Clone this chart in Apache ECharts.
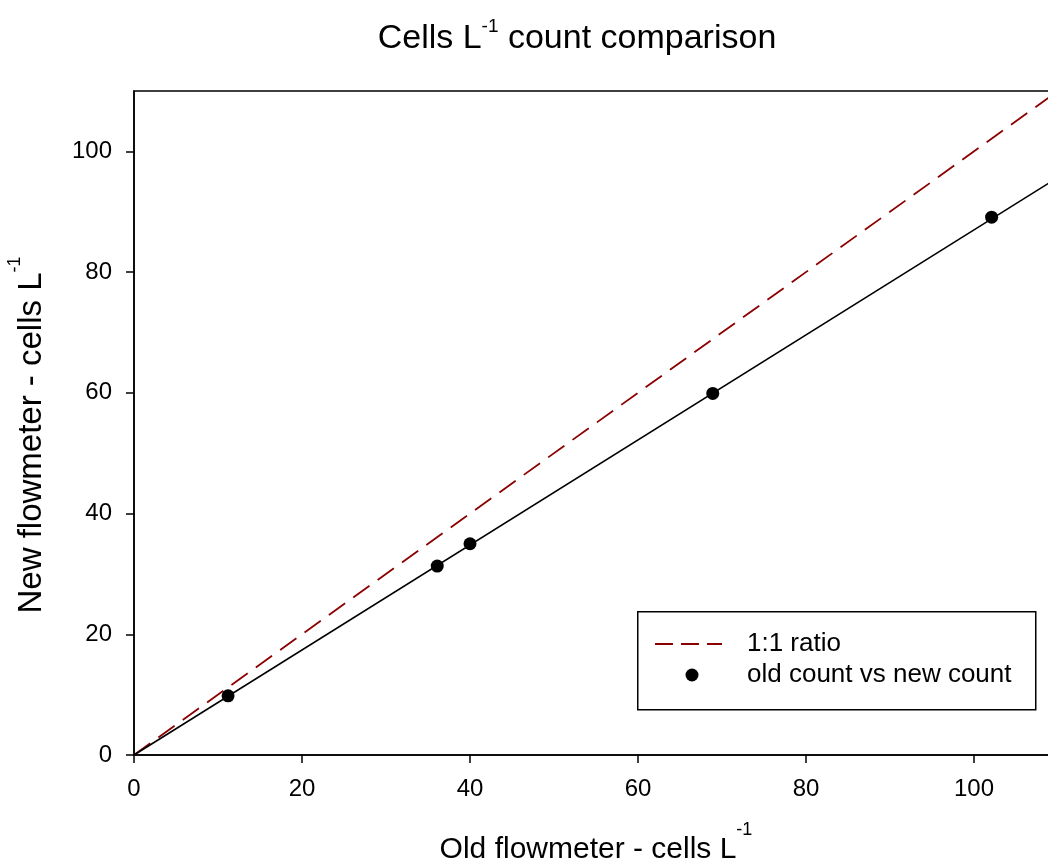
<!DOCTYPE html>
<html>
<head>
<meta charset="utf-8">
<script src="https://cdn.jsdelivr.net/npm/echarts@6/dist/echarts.min.js"></script>
<style>
html,body{margin:0;padding:0;background:#fff;}
#c{width:1048px;height:864px;}
</style>
</head>
<body>
<div id="c"></div>
<script>
// data
const oldCount = [11.2, 36.1, 40.0, 68.9, 102.1];
const newCount = [9.8, 31.3, 35.0, 59.9, 89.1];
const ratioLineX = [0, 110];
const ratioLineY = [0, 110];
const fitLineX = [0, 110];
const fitLineY = [0, 95.7];
const tickValues = [0, 20, 40, 60, 80, 100];
const legendLabels = ['1:1 ratio', 'old count vs new count'];

const FONT = 'Liberation Sans, Arial, sans-serif';
const RED = '#8b0000';
const chart = echarts.init(document.getElementById('c'), null, {renderer: 'canvas'});

const pts = oldCount.map((x, i) => [x, newCount[i]]);
const ratio = ratioLineX.map((x, i) => [x, ratioLineY[i]]);
const fit = fitLineX.map((x, i) => [x, fitLineY[i]]);

const supRich = (size, supSize, raise) => ({
  a: {fontSize: size, fontFamily: FONT, fontWeight: 'normal', color: '#000', verticalAlign: 'bottom'},
  s: {fontSize: supSize, fontFamily: FONT, fontWeight: 'normal', color: '#000', verticalAlign: 'bottom', padding: [0, 0, raise, 0]}
});

chart.setOption({
  animation: false,
  backgroundColor: '#fff',
  title: {
    text: '{a|Cells L}{s|-1}{a| count comparison}',
    left: 572,
    textAlign: 'center',
    top: 12,
    textStyle: {fontWeight: 'normal', rich: supRich(34, 19, 20)}
  },
  grid: {left: 134, right: -10, top: 91, bottom: 109, outerBoundsMode: 'none', show: true, borderColor: '#000', borderWidth: 1.5, backgroundColor: 'transparent'},
  graphic: [
    {type: 'rect', left: 637, top: 611, z: 10, shape: {width: 398, height: 98}, style: {fill: '#fff', stroke: '#000', lineWidth: 1.5}},
    {type: 'line', z: 11, shape: {x1: 655, y1: 644, x2: 722, y2: 644}, style: {stroke: RED, lineWidth: 2, lineDash: [18, 8]}},
    {type: 'circle', z: 11, shape: {cx: 692, cy: 675, r: 6.5}, style: {fill: '#000'}},
    {type: 'text', z: 11, x: 747, y: 644, style: {text: legendLabels[0], font: '26px ' + FONT, fill: '#000', verticalAlign: 'middle'}},
    {type: 'text', z: 11, x: 747, y: 675, style: {text: legendLabels[1], font: '26px ' + FONT, fill: '#000', verticalAlign: 'middle'}}
  ],
  xAxis: {
    type: 'value', min: 0, max: 110, interval: 20,
    name: '{a|Old flowmeter - cells L}{s|-1}',
    nameLocation: 'middle', nameGap: 66,
    nameTextStyle: {rich: supRich(30, 18, 26)},
    axisLine: {onZero: false, lineStyle: {color: '#000', width: 1.5}},
    axisTick: {show: true, length: 8, inside: false, customValues: tickValues, lineStyle: {color: '#000', width: 1.5}},
    axisLabel: {customValues: tickValues, margin: 22, fontSize: 24, fontFamily: FONT, color: '#000'},
    splitLine: {show: false}
  },
  yAxis: {
    type: 'value', min: 0, max: 110, interval: 20,
    name: '{a|New flowmeter - cells L}{s|-1}',
    nameLocation: 'middle', nameGap: 86,
    nameTextStyle: {rich: supRich(33, 18, 24), padding: [0, 24, 0, 0]},
    axisLine: {show: true, onZero: false, lineStyle: {color: '#000', width: 1.5}},
    axisTick: {show: true, length: 8, inside: false, customValues: tickValues, lineStyle: {color: '#000', width: 1.5}},
    axisLabel: {customValues: tickValues, margin: 22, fontSize: 24, fontFamily: FONT, color: '#000'},
    splitLine: {show: false}
  },
  series: [
    {
      name: 'fit', type: 'line', data: fit, symbol: 'none',
      lineStyle: {color: '#000', width: 1.6}, z: 3
    },
    {
      name: legendLabels[0], type: 'line', data: ratio, symbol: 'none',
      lineStyle: {color: RED, width: 1.8, type: [20, 10]}, itemStyle: {color: RED}, z: 2
    },
    {
      name: legendLabels[1], type: 'scatter', data: pts,
      symbol: 'circle', symbolSize: 13,
      itemStyle: {color: '#000', opacity: 1}, z: 4
    }
  ]
});
</script>
</body>
</html>
